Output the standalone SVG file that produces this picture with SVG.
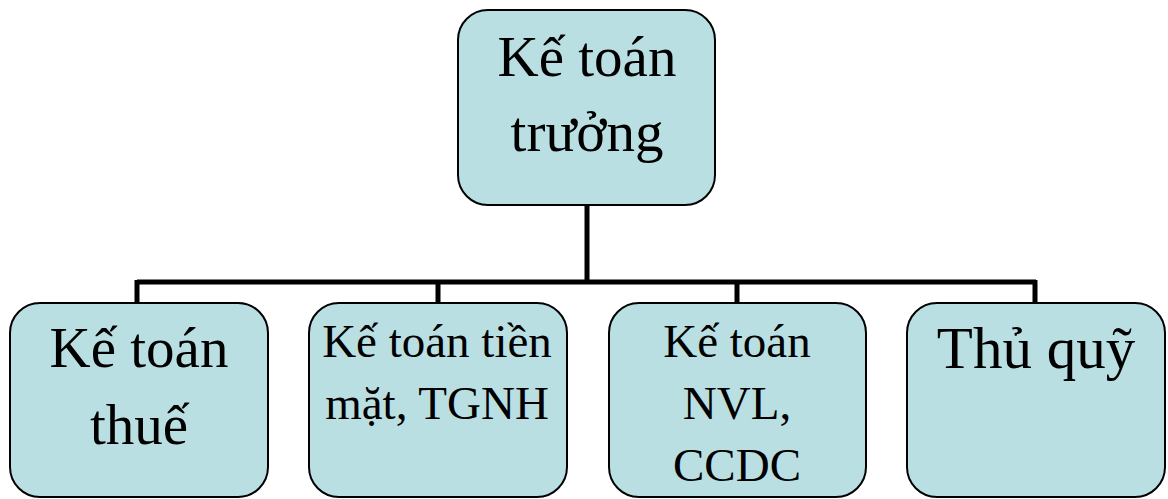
<svg xmlns="http://www.w3.org/2000/svg" width="1168" height="499" viewBox="0 0 1168 499">
<style>
.box{fill:#badfe3;stroke:#000;stroke-width:2}
.t{font-family:"Liberation Serif","Times New Roman",serif;fill:#000;text-anchor:middle}
.big{font-size:57px}
.sm{font-size:47px}
.conn{fill:none;stroke:#000;stroke-width:5}
</style>
<rect width="1168" height="499" fill="#fff"/>
<g id="connectors">
<path class="conn" d="M587 205V282M137 282H1036M137 280V303M438 280V303M737 280V303M1035 280V303"/>
</g>
<g id="n0">
<rect class="box" x="458" y="10" width="257" height="195" rx="30"/>
<text class="t big" x="587" y="76">Kế toán</text>
<text class="t big" x="587" y="151">trưởng</text>
</g>
<g id="n1">
<rect class="box" x="10" y="303" width="258" height="194" rx="30"/>
<text class="t big" x="139" y="367">Kế toán</text>
<text class="t big" x="139" y="444">thuế</text>
</g>
<g id="n2">
<rect class="box" x="309" y="303" width="258" height="194" rx="30"/>
<text class="t sm" x="437" y="357">Kế toán tiền</text>
<text class="t sm" x="437" y="419">mặt, TGNH</text>
</g>
<g id="n3">
<rect class="box" x="609" y="303" width="257" height="194" rx="30"/>
<text class="t sm" x="737" y="357">Kế toán</text>
<text class="t sm" x="737" y="419">NVL,</text>
<text class="t sm" x="737" y="481">CCDC</text>
</g>
<g id="n4">
<rect class="box" x="907" y="303" width="258" height="194" rx="30"/>
<text class="t" style="font-size:59px" x="1036" y="368">Thủ quỹ</text>
</g>
</svg>
